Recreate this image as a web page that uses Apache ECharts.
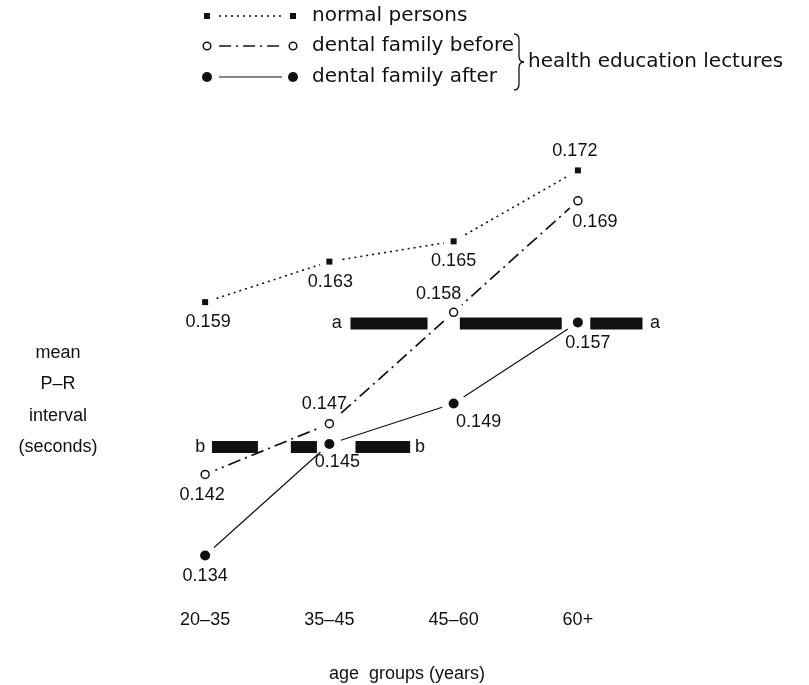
<!DOCTYPE html>
<html>
<head>
<meta charset="utf-8" />
<script src="https://cdn.jsdelivr.net/npm/echarts@6/dist/echarts.min.js"></script>
<style>
  html, body { margin: 0; padding: 0; background: #fff; }
  #chart { width: 809px; height: 685px; }
</style>
</head>
<body>
<div id="chart"></div>
<script>
// age groups on the x axis
const ageGroups = ['20–35', '35–45', '45–60', '60+'];

// mean P-R interval (seconds)
const normalPersons = [0.159, 0.163, 0.165, 0.172];
const dentalBefore = [0.142, 0.147, 0.158, 0.169];
const dentalAfter = [0.134, 0.145, 0.149, 0.157];

// significance bars, x in category units (0 = first group), y in seconds
const aLevel = 0.1569;
const aSegments = [[1.17, 1.79], [2.05, 2.87], [3.10, 3.52]];
const aLetterX = [1.06, 3.62];
const bLevel = 0.1447;
const bSegments = [[0.055, 0.425], [0.69, 0.90], [1.21, 1.65]];
const bLetterX = [-0.04, 1.73];

const yMin = 0.13;
const yMax = 0.175;

const ink = '#111';
const labelFont = 'Liberation Sans';

// where each value label sits relative to its point: [position, dx, distance]
const normalLabelAt = [['bottom', 3, 8], ['bottom', 1, 8], ['bottom', 0, 8], ['top', -3, 7]];
const beforeLabelAt = [['bottom', -3, 7], ['top', -5, 6], ['top', -15, 4], ['bottom', 17, 7]];
const afterLabelAt = [['bottom', 0, 7], ['bottom', 8, 4], ['bottom', 25, 5], ['bottom', 10, 7]];

const withLabels = (vals, layout) => vals.map((v, i) => ({
  value: v,
  label: {
    position: layout[i][0],
    offset: [layout[i][1], 0],
    distance: layout[i][2]
  }
}));

const labelStyle = {
  show: true,
  color: ink,
  fontFamily: labelFont,
  fontSize: 18,
  formatter: p => p.value.toFixed(3)
};

const lineSeries = (vals, dash, width) => ({
  type: 'line',
  data: vals,
  symbol: 'none',
  silent: true,
  z: 2,
  lineStyle: { color: ink, width: width, type: dash }
});

// white discs under the markers, so the lines stop short of each point
const haloSeries = (vals, size) => ({
  type: 'scatter',
  data: vals,
  symbol: 'circle',
  symbolSize: size,
  silent: true,
  z: 3,
  itemStyle: { color: '#fff', opacity: 1 }
});

const barSeries = (level, segs) => segs.map(s => ({
  type: 'line',
  xAxisIndex: 1,
  data: [[s[0], level], [s[1], level]],
  symbol: 'none',
  silent: true,
  clip: false,
  z: 4,
  lineStyle: { color: ink, width: 12, cap: 'butt' }
}));

const letterSeries = (level, xs, letter) => ({
  type: 'scatter',
  xAxisIndex: 1,
  data: xs.map(x => [x, level]),
  symbolSize: 0,
  silent: true,
  clip: false,
  z: 5,
  itemStyle: { opacity: 1 },
  label: {
    show: true,
    position: 'inside',
    color: ink,
    fontFamily: labelFont,
    fontSize: 18,
    formatter: letter
  }
});

const chart = echarts.init(document.getElementById('chart'), null, { renderer: 'canvas' });

// hand drawn legend, as in the printed figure
const legendRows = [
  { y: 16, text: 'normal persons', dash: [2, 4], marker: 'square' },
  { y: 46, text: 'dental family before', dash: [12, 5, 2, 5], marker: 'hollow' },
  { y: 77, text: 'dental family after', dash: null, marker: 'dot' }
];
const legendGraphics = [];
legendRows.forEach(r => {
  legendGraphics.push({
    type: 'line',
    shape: { x1: 219, y1: r.y, x2: 282, y2: r.y },
    style: { stroke: ink, lineWidth: r.dash ? 1.6 : 1.2, lineDash: r.dash || null }
  });
  [207, 293].forEach(cx => {
    if (r.marker === 'square') {
      legendGraphics.push({ type: 'rect', shape: { x: cx - 3, y: r.y - 3, width: 6, height: 6 }, style: { fill: ink } });
    } else if (r.marker === 'hollow') {
      legendGraphics.push({ type: 'circle', shape: { cx: cx, cy: r.y, r: 3.8 }, style: { fill: '#fff', stroke: ink, lineWidth: 1.5 } });
    } else {
      legendGraphics.push({ type: 'circle', shape: { cx: cx, cy: r.y, r: 5 }, style: { fill: ink } });
    }
  });
  legendGraphics.push({
    type: 'text',
    x: 312,
    y: r.y,
    style: { text: r.text, fill: ink, font: '20px "DejaVu Sans"', verticalAlign: 'middle', textAlign: 'left' }
  });
});
// the brace: two quarter curves each side of a point
const braceStyle = { stroke: ink, lineWidth: 1.3, fill: null };
[
  [514, 34, 519, 40, 519, 34],
  [519, 56, 524, 62, 519, 62],
  [524, 62, 519, 68, 519, 62],
  [519, 84, 514, 90, 519, 90]
].forEach(c => legendGraphics.push({
  type: 'bezierCurve',
  shape: { x1: c[0], y1: c[1], x2: c[2], y2: c[3], cpx1: c[4], cpy1: c[5] },
  style: braceStyle
}));
legendGraphics.push({ type: 'line', shape: { x1: 519, y1: 40, x2: 519, y2: 56 }, style: braceStyle });
legendGraphics.push({ type: 'line', shape: { x1: 519, y1: 68, x2: 519, y2: 84 }, style: braceStyle });
legendGraphics.push({
  type: 'text',
  x: 528,
  y: 62,
  style: { text: 'health education lectures', fill: ink, font: '20px "DejaVu Sans"', verticalAlign: 'middle', textAlign: 'left' }
});
legendGraphics.push({
  type: 'text',
  x: 58,
  y: 400,
  style: {
    text: 'mean\nP–R\ninterval\n(seconds)',
    fill: ink,
    font: '18px "Liberation Sans"',
    lineHeight: 31.5,
    textAlign: 'center',
    verticalAlign: 'middle'
  }
});
legendGraphics.push({
  type: 'text',
  x: 407,
  y: 674,
  style: { text: 'age  groups (years)', fill: ink, font: '18px "Liberation Sans"', textAlign: 'center', verticalAlign: 'middle' }
});

const option = {
  backgroundColor: '#fff',
  animation: false,
  grid: { left: 143, right: 169, top: 140, bottom: 89 },
  xAxis: [
    {
      type: 'category',
      data: ageGroups,
      boundaryGap: true,
      axisLine: { show: false },
      axisTick: { show: false },
      splitLine: { show: false },
      axisLabel: { margin: 15, color: ink, fontFamily: labelFont, fontSize: 18 }
    },
    { type: 'value', min: -0.5, max: 3.5, show: false }
  ],
  yAxis: { type: 'value', min: yMin, max: yMax, show: false },
  graphic: legendGraphics,
  series: [
    lineSeries(normalPersons, [2, 4], 1.6),
    lineSeries(dentalBefore, [13, 5, 2, 5], 1.7),
    lineSeries(dentalAfter, 'solid', 1.2),
    haloSeries(normalPersons, 20),
    haloSeries(dentalBefore, 22),
    haloSeries(dentalAfter, 24),
    ...barSeries(aLevel, aSegments),
    ...barSeries(bLevel, bSegments),
    letterSeries(aLevel, aLetterX, 'a'),
    letterSeries(bLevel, bLetterX, 'b'),
    {
      type: 'scatter',
      data: withLabels(normalPersons, normalLabelAt),
      symbol: 'rect',
      symbolSize: 6,
      z: 6,
      itemStyle: { color: ink, opacity: 1 },
      label: labelStyle
    },
    {
      type: 'scatter',
      data: withLabels(dentalBefore, beforeLabelAt),
      symbol: 'circle',
      symbolSize: 8,
      z: 6,
      itemStyle: { color: '#fff', borderColor: ink, borderWidth: 1.5, opacity: 1 },
      label: labelStyle
    },
    {
      type: 'scatter',
      data: withLabels(dentalAfter, afterLabelAt),
      symbol: 'circle',
      symbolSize: 10,
      z: 6,
      itemStyle: { color: ink, opacity: 1 },
      label: labelStyle
    }
  ]
};

chart.setOption(option);
</script>
</body>
</html>
